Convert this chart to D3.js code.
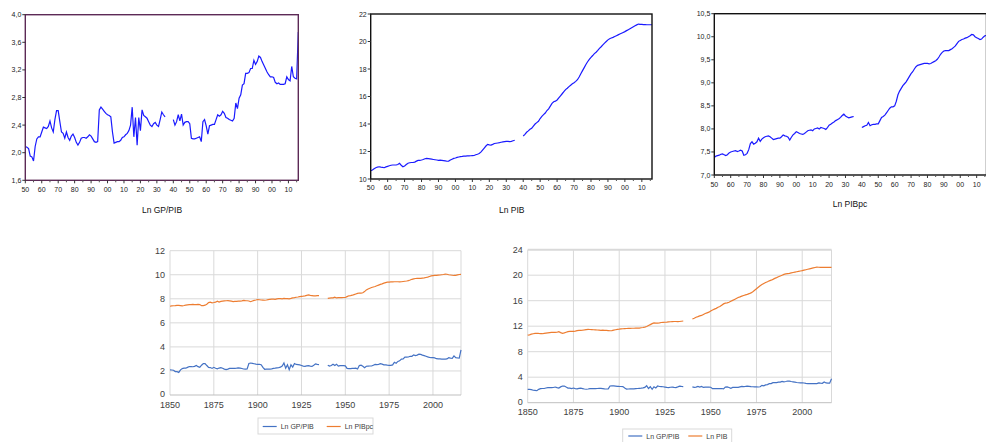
<!DOCTYPE html>
<html><head><meta charset="utf-8">
<script src="https://cdn.jsdelivr.net/npm/d3@7"></script>
<style>body{margin:0;background:#fff} svg{display:block}</style>
</head><body>
<svg id="c" width="986" height="442"></svg>
<script>
// Years 1850..2016 (x categories); 1936-1939 missing in all series
const years = d3.range(1850, 2017);

const lnGP = [
2.09,2.08,2.06,1.95,1.94,1.88,2.09,2.20,2.23,2.23,
2.30,2.37,2.36,2.35,2.38,2.46,2.36,2.30,2.48,2.61,
2.61,2.45,2.30,2.28,2.21,2.30,2.22,2.18,2.24,2.27,
2.22,2.15,2.11,2.15,2.21,2.22,2.22,2.21,2.23,2.26,
2.24,2.20,2.16,2.15,2.16,2.62,2.66,2.63,2.60,2.57,
2.55,2.54,2.52,2.30,2.14,2.15,2.16,2.16,2.18,2.22,
2.23,2.26,2.28,2.32,2.40,2.66,2.23,2.51,2.11,2.51,
2.32,2.62,2.54,2.52,2.50,2.45,2.40,2.38,2.42,2.44,
2.40,2.38,2.48,2.59,2.55,2.52,null,null,null,null,
2.48,2.40,2.45,2.55,2.46,2.56,2.40,2.44,2.45,2.45,
2.42,2.21,2.20,2.20,2.21,2.22,2.23,2.16,2.45,2.48,
2.39,2.27,2.39,2.40,2.41,2.41,2.48,2.55,2.53,2.55,
2.60,2.57,2.51,2.50,2.48,2.47,2.46,2.50,2.72,2.64,
2.79,2.84,2.98,3.00,3.15,3.15,3.16,3.22,3.22,3.34,
3.28,3.32,3.40,3.38,3.32,3.27,3.22,3.17,3.13,3.10,
3.10,3.09,3.02,3.00,3.01,2.99,2.99,2.99,3.00,3.10,
3.06,3.04,3.25,3.10,3.08,3.07,3.75];

const lnPIB = [
10.60,10.65,10.75,10.82,10.87,10.89,10.86,10.84,10.82,10.88,
10.92,10.96,11.00,11.02,11.02,11.02,11.05,11.14,11.00,10.89,
10.95,11.05,11.15,11.18,11.20,11.20,11.23,11.30,11.35,11.36,
11.38,11.42,11.47,11.50,11.48,11.46,11.44,11.42,11.40,11.38,
11.36,11.37,11.36,11.34,11.32,11.29,11.30,11.38,11.44,11.50,
11.53,11.57,11.60,11.63,11.64,11.66,11.67,11.68,11.68,11.69,
11.70,11.71,11.76,11.80,11.85,11.95,12.10,12.25,12.40,12.52,
12.48,12.47,12.52,12.58,12.60,12.62,12.64,12.67,12.70,12.72,
12.74,12.74,12.72,12.74,12.78,12.82,null,null,null,null,
13.13,13.25,13.40,13.50,13.62,13.69,13.85,14.00,14.10,14.20,
14.40,14.55,14.68,14.80,14.98,15.10,15.30,15.50,15.62,15.66,
15.75,15.90,16.05,16.20,16.35,16.50,16.60,16.72,16.82,16.92,
17.00,17.10,17.22,17.42,17.65,17.88,18.10,18.33,18.53,18.70,
18.85,18.98,19.12,19.22,19.35,19.50,19.62,19.75,19.88,20.00,
20.12,20.20,20.25,20.30,20.36,20.42,20.48,20.54,20.60,20.66,
20.72,20.79,20.86,20.93,21.00,21.07,21.14,21.21,21.27,21.25,
21.24,21.23,21.23,21.22,21.22,21.22,21.22];

const lnPIBpc = [
7.38,7.41,7.42,7.43,7.45,7.46,7.44,7.42,7.44,7.48,
7.50,7.51,7.52,7.53,7.51,7.52,7.54,7.52,7.43,7.44,
7.47,7.55,7.68,7.72,7.67,7.69,7.72,7.80,7.73,7.78,
7.81,7.83,7.84,7.85,7.83,7.80,7.77,7.78,7.79,7.80,
7.80,7.83,7.87,7.85,7.84,7.82,7.76,7.82,7.87,7.90,
7.94,7.92,7.90,7.89,7.88,7.90,7.93,7.96,7.97,7.98,
7.96,8.00,8.01,8.02,8.00,8.03,8.02,8.01,7.99,8.03,
8.08,8.10,8.13,8.15,8.18,8.20,8.22,8.25,8.29,8.32,
8.28,8.26,8.24,8.25,8.26,8.27,null,null,null,null,
8.03,8.05,8.07,8.08,8.14,8.07,8.09,8.10,8.10,8.11,
8.11,8.18,8.25,8.27,8.30,8.35,8.40,8.45,8.48,8.48,
8.50,8.60,8.74,8.82,8.88,8.94,8.98,9.02,9.08,9.14,
9.20,9.24,9.30,9.35,9.38,9.39,9.40,9.41,9.42,9.42,
9.42,9.41,9.42,9.44,9.46,9.48,9.51,9.56,9.62,9.66,
9.69,9.70,9.70,9.70,9.72,9.74,9.77,9.80,9.85,9.90,
9.92,9.94,9.95,9.97,9.98,10.00,10.02,10.05,10.04,10.00,
9.98,9.96,9.94,9.95,9.99,10.02,10.03];

const ticksGP = [1.6,2.0,2.4,2.8,3.2,3.6,4.0];
const ticksPIB = [10,12,14,16,18,20,22];
const ticksPIBpc = [7.0,7.5,8.0,8.5,9.0,9.5,10.0,10.5];
const decadeTicks = d3.range(1850, 2011, 10);
const halfTicks = d3.range(1855, 2016, 10);
const excelYears = [1850,1875,1900,1925,1950,1975,2000];
const ticksA = [0,2,4,6,8,10,12];
const ticksB = [0,4,8,12,16,20,24];

const svg = d3.select('#c');
const comma1 = d => d3.format('.1f')(d).replace('.', ',');

function eviews(o){
  const g = svg.append('g');
  const x = d3.scaleLinear().domain([1850, 2016]).range([o.x0, o.x1]);
  const y = d3.scaleLinear().domain(o.yd).range([o.y1, o.y0]);
  const id = 'clip' + Math.round(o.x0);
  svg.append('clipPath').attr('id', id).append('rect')
    .attr('x', o.x0).attr('y', o.y0 - 1).attr('width', o.x1 - o.x0).attr('height', o.y1 - o.y0 + 1);
  const line = d3.line().defined(d => d.v != null).x(d => x(d.yr)).y(d => y(d.v));
  g.append('path').datum(years.map((yr, i) => ({yr, v: o.data[i]})))
    .attr('d', line).attr('fill', 'none').attr('stroke', '#1a1aff').attr('stroke-width', 1.2)
    .attr('clip-path', `url(#${id})`);
  g.append('rect').attr('x', o.x0).attr('y', o.y0).attr('width', o.x1 - o.x0).attr('height', o.y1 - o.y0)
    .attr('fill', 'none').attr('stroke', o.frame).attr('stroke-width', 1.4);
  o.yt.forEach(t => {
    g.append('line').attr('x1', o.x0 - 3).attr('x2', o.x0).attr('y1', y(t)).attr('y2', y(t)).attr('stroke', '#333');
    g.append('text').attr('x', o.x0 - 4).attr('y', y(t) + 2.5).attr('text-anchor', 'end')
      .attr('font-family', 'Liberation Sans, Arial').attr('font-size', 7).attr('fill', '#222')
      .text(o.fmt(t));
  });
  decadeTicks.forEach(t => {
    g.append('line').attr('x1', x(t)).attr('x2', x(t)).attr('y1', o.y1).attr('y2', o.y1 + 3).attr('stroke', '#333');
    g.append('text').attr('x', x(t)).attr('y', o.xly).attr('text-anchor', 'middle')
      .attr('font-family', 'Liberation Sans, Arial').attr('font-size', 7).attr('fill', '#222')
      .text(String(t).slice(2));
  });
  halfTicks.forEach(t => {
    g.append('line').attr('x1', x(t)).attr('x2', x(t)).attr('y1', o.y1).attr('y2', o.y1 + 2).attr('stroke', '#555');
  });
  g.append('text').attr('x', o.tx).attr('y', o.ty).attr('text-anchor', 'middle')
    .attr('font-family', 'Liberation Sans, Arial').attr('font-size', 8.5).attr('fill', '#111').text(o.title);
}

eviews({x0: 25.3, x1: 298.3, y0: 14.7, y1: 180.3, yd: [1.6, 4.0], yt: ticksGP, fmt: comma1,
  data: lnGP, frame: '#5c2a56', xly: 191.5, tx: 162, ty: 213, title: 'Ln GP/PIB'});
eviews({x0: 370.7, x1: 652, y0: 14, y1: 179, yd: [10, 22], yt: ticksPIB, fmt: d => String(d),
  data: lnPIB, frame: '#111', xly: 190, tx: 511.7, ty: 213, title: 'Ln PIB'});
eviews({x0: 714.3, x1: 986.5, y0: 13.7, y1: 175, yd: [7.0, 10.5], yt: ticksPIBpc, fmt: comma1,
  data: lnPIBpc, frame: '#111', xly: 186.5, tx: 850, ty: 207, title: 'Ln PIBpc'});

function excel(o){
  const g = svg.append('g');
  const x = d3.scaleLinear().domain([1850, 2016]).range([o.x0, o.x1]);
  const y = d3.scaleLinear().domain(o.yd).range([o.y1, o.y0]);
  const font = 'Liberation Sans, Arial';
  o.yt.forEach(t => {
    if (t !== o.yd[0]) g.append('line').attr('x1', o.x0).attr('x2', o.x1).attr('y1', y(t)).attr('y2', y(t))
      .attr('stroke', '#d9d9d9').attr('stroke-width', o.top && t === o.yd[1] ? 2 : 1);
    g.append('text').attr('x', o.x0 - 5).attr('y', y(t) + (t === o.yd[0] ? 2.2 : 3.2)).attr('text-anchor', 'end')
      .attr('font-family', font).attr('font-size', 9).attr('fill', '#404040').text(t);
  });
  excelYears.forEach(t => {
    g.append('line').attr('x1', x(t)).attr('x2', x(t)).attr('y1', o.y0).attr('y2', o.y1).attr('stroke', '#d9d9d9');
    g.append('text').attr('x', x(t)).attr('y', o.y1 + 12.5).attr('text-anchor', 'middle')
      .attr('font-family', font).attr('font-size', 9).attr('fill', '#404040').text(t);
  });
  g.append('line').attr('x1', o.x1).attr('x2', o.x1).attr('y1', o.y0).attr('y2', o.y1).attr('stroke', '#d9d9d9');
  g.append('line').attr('x1', o.x0).attr('x2', o.x1).attr('y1', o.y1).attr('y2', o.y1).attr('stroke', '#bfbfbf');
  const line = d3.line().defined(d => d.v != null).x(d => x(d.yr)).y(d => y(d.v));
  o.series.forEach(s => {
    g.append('path').datum(years.map((yr, i) => ({yr, v: s.data[i]})))
      .attr('d', line).attr('fill', 'none').attr('stroke', s.color).attr('stroke-width', 1.2);
  });
  const L = o.leg;
  g.append('rect').attr('x', L.x).attr('y', L.y).attr('width', L.w).attr('height', L.h)
    .attr('fill', '#fff').attr('stroke', '#d9d9d9');
  o.series.forEach((s, i) => {
    const lx = L.items[i];
    g.append('line').attr('x1', lx).attr('x2', lx + 14).attr('y1', L.ly).attr('y2', L.ly)
      .attr('stroke', s.color).attr('stroke-width', 1.2);
    g.append('text').attr('x', lx + 18).attr('y', L.ly + 2.5).attr('font-family', font)
      .attr('font-size', 7).attr('fill', '#404040').text(s.name);
  });
}

excel({x0: 170, x1: 461, y0: 250.7, y1: 395, yd: [0, 12], yt: ticksA,
  series: [{name: 'Ln GP/PIB', data: lnGP, color: '#4472c4'}, {name: 'Ln PIBpc', data: lnPIBpc, color: '#ed7d31'}],
  leg: {x: 258, y: 418, w: 115, h: 16, ly: 426.5, items: [262.7, 326.7]}});
excel({x0: 527.7, x1: 831.5, y0: 249.7, y1: 402.7, yd: [0, 24], yt: ticksB, top: true,
  series: [{name: 'Ln GP/PIB', data: lnGP, color: '#4472c4'}, {name: 'Ln PIB', data: lnPIB, color: '#ed7d31'}],
  leg: {x: 622.7, y: 429, w: 109, h: 16, ly: 436, items: [628.3, 688.3]}});
</script>
</body></html>
